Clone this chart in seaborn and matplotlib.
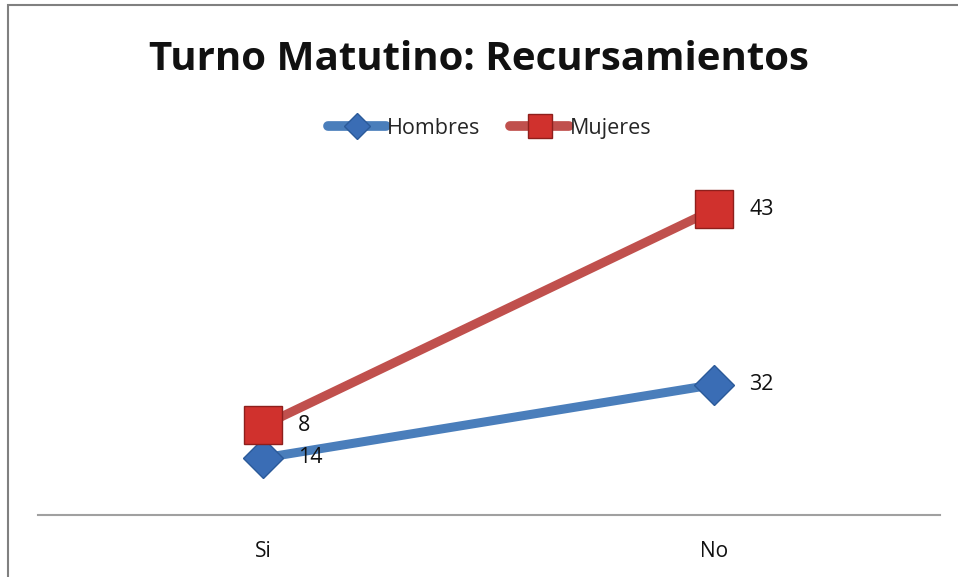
import numpy as np
import pandas as pd
import matplotlib
matplotlib.use("Agg")
import matplotlib.pyplot as plt
from matplotlib.patches import Rectangle
from matplotlib.lines import Line2D
import seaborn as sns

categorias = ["Si", "No"]
hombres = [14, 32]
mujeres = [8, 43]

sns.set_theme(style="white")
plt.rcParams['font.family'] = ['Open Sans', 'DejaVu Sans']

# stacked line chart: Mujeres sits on top of Hombres
apilado = list(np.array(hombres) + np.array(mujeres))
df = pd.DataFrame({
    "categoria": categorias * 2,
    "valor": hombres + apilado,
    "etiqueta": hombres + mujeres,
    "serie": ["Hombres"] * 2 + ["Mujeres"] * 2,
})

azul = "#4A7EBB"
azul_m = "#3A6DB5"
rojo = "#C0504D"
rojo_m = "#D0312D"

fig = plt.figure(figsize=(9.58, 5.77), dpi=100)
ax = fig.add_axes([0.0397, 0.1075, 0.9413, 0.565])

sns.lineplot(data=df[df.serie == "Hombres"], x="categoria", y="valor", ax=ax,
             color=azul, lw=6.5, marker="D", markersize=20,
             markerfacecolor=azul_m, markeredgecolor="#2B5A99", markeredgewidth=1)
sns.lineplot(data=df[df.serie == "Mujeres"], x="categoria", y="valor", ax=ax,
             color=rojo, lw=6.5, marker="s", markersize=27,
             markerfacecolor=rojo_m, markeredgecolor="#8E1F1C", markeredgewidth=1)

for _, row in df.iterrows():
    ax.annotate(str(row["etiqueta"]), (categorias.index(row["categoria"]), row["valor"]),
                xytext=(25, 0), textcoords="offset points", va="center",
                ha="left", fontsize=15.5, color="#111111")

ax.set_xlim(-0.5, 1.5)
ax.set_ylim(0, 80)
ax.set_yticks([])
ax.set_xlabel("")
ax.set_ylabel("")
ax.tick_params(axis="x", length=0, labelsize=15, pad=19, colors="#111111")
for s in ["top", "left", "right"]:
    ax.spines[s].set_visible(False)
ax.spines["bottom"].set_color("#A0A0A0")
ax.spines["bottom"].set_linewidth(1.5)

fig.suptitle("Turno Matutino: Recursamientos", y=0.897, va="center", fontsize=29,
             fontweight="bold", color="#111111")

handles = [
    Line2D([], [], color=azul, lw=7, marker="D", markersize=13,
           markerfacecolor=azul_m, markeredgecolor="#2B5A99", solid_capstyle="round"),
    Line2D([], [], color=rojo, lw=7, marker="s", markersize=17,
           markerfacecolor=rojo_m, markeredgecolor="#8E1F1C", solid_capstyle="round"),
]
fig.legend(handles, ["Hombres", "Mujeres"], loc="center", bbox_to_anchor=(0.511, 0.778),
           ncol=2, frameon=False, fontsize=15.5, handlelength=2.7, handletextpad=0.05,
           columnspacing=1.4)

fig.patches.append(Rectangle((8 / 958, -0.01), 1.0, 1 - 5 / 577 + 0.01,
                             transform=fig.transFigure, fill=False,
                             edgecolor="#808080", lw=1.5))

fig.savefig("out.png", dpi=100)
